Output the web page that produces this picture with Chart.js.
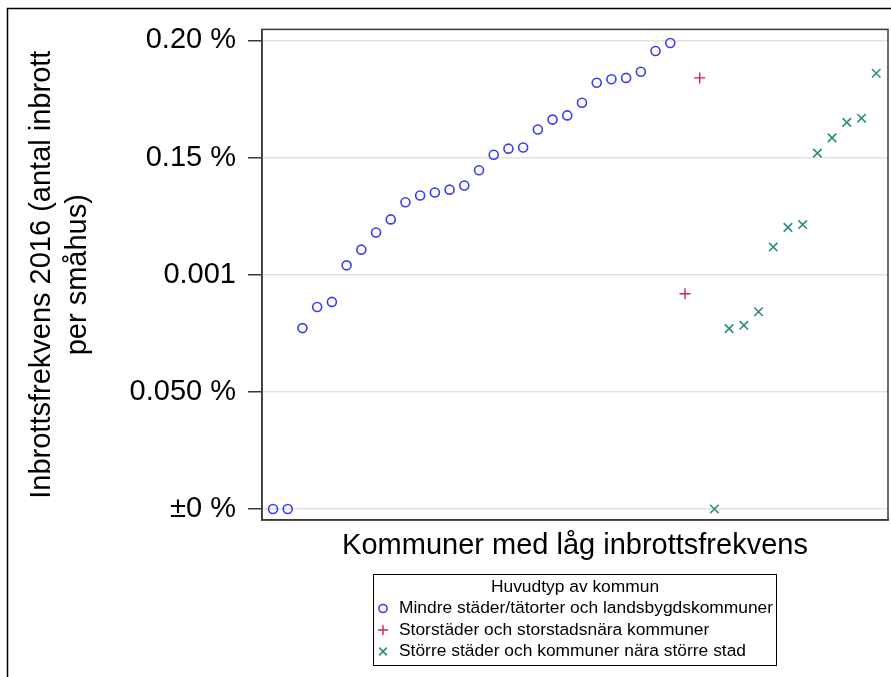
<!DOCTYPE html>
<html>
<head>
<meta charset="utf-8">
<script src="https://cdn.jsdelivr.net/npm/chart.js@4/dist/chart.umd.min.js"></script>
<style>
  html, body { margin: 0; padding: 0; background: #fff; overflow: hidden; }
  #wrap { width: 891px; height: 677px; }
  canvas { display: block; }
</style>
</head>
<body>
<div id="wrap"><canvas id="c" width="891" height="677"></canvas></div>
<script>
// ---- Data ----
const seriesNames = [
  'Mindre städer/tätorter och landsbygdskommuner',
  'Storstäder och storstadsnära kommuner',
  'Större städer och kommuner nära större stad'
];
const legendTitle = 'Huvudtyp av kommun';
const xTitle = 'Kommuner med låg inbrottsfrekvens';
const yTitle = ['Inbrottsfrekvens 2016 (antal inbrott', 'per småhus)'];

// rank of kommun (x position) and inbrottsfrekvens in percent (y)
const ranksMindre = [0, 1, 2, 3, 4, 5, 6, 7, 8, 9, 10, 11, 12, 13, 14, 15, 16, 17, 18, 19, 20, 21, 22, 23, 24, 25, 26, 27];
const valuesMindre = [0, 0, 0.0772, 0.0862, 0.0884, 0.1040, 0.1107, 0.1180, 0.1236, 0.1309, 0.1338, 0.1351, 0.1363, 0.1381,
                      0.1446, 0.1512, 0.1538, 0.1543, 0.1620, 0.1662, 0.1680, 0.1734, 0.1819, 0.1834, 0.1840, 0.1866, 0.1955, 0.1989];
const ranksStor = [28, 29];
const valuesStor = [0.0919, 0.1840];
const ranksStorre = [30, 31, 32, 33, 34, 35, 36, 37, 38, 39, 40, 41];
const valuesStorre = [0, 0.0770, 0.0784, 0.0842, 0.1118, 0.1202, 0.1214, 0.1519, 0.1584, 0.1650, 0.1668, 0.1860];

const yTickValues = [0, 0.05, 0.10, 0.15, 0.20];
const yTickLabels = ['±0 %', '0.050 %', '0.001', '0.15 %', '0.20 %'];

// ---- Build ----
function pts(xs, ys) { return xs.map((x, i) => ({ x: x, y: ys[i] })); }

const FONT = '"Liberation Sans", Arial, sans-serif';
const colors = ['#3b3bf0', '#c8284a', '#2f8a80'];

const datasets = [
  { label: seriesNames[0], data: pts(ranksMindre, valuesMindre), pointStyle: 'circle', radius: 4.5, borderWidth: 1.6,
    borderColor: colors[0], backgroundColor: 'rgba(0,0,0,0)' },
  { label: seriesNames[1], data: pts(ranksStor, valuesStor), pointStyle: 'cross', radius: 5.5, borderWidth: 1.4,
    borderColor: colors[1], backgroundColor: colors[1] },
  { label: seriesNames[2], data: pts(ranksStorre, valuesStorre), pointStyle: 'crossRot', radius: 6, borderWidth: 1.6,
    borderColor: colors[2], backgroundColor: colors[2] }
];
datasets.forEach(d => { d.pointRadius = d.radius; d.pointHoverRadius = d.radius; });

const framePlugin = {
  id: 'frame',
  beforeDraw(chart) {
    const ctx = chart.ctx;
    ctx.save();
    ctx.fillStyle = '#fff';
    ctx.fillRect(0, 0, chart.width, chart.height);
    ctx.strokeStyle = '#000';
    ctx.lineWidth = 1.5;
    ctx.beginPath();
    ctx.moveTo(7.5, chart.height + 2);
    ctx.lineTo(7.5, 8.5);
    ctx.lineTo(chart.width + 2, 8.5);
    ctx.stroke();
    ctx.restore();
  },
  afterDatasetsDraw(chart) {
    const a = chart.chartArea;
    const ctx = chart.ctx;
    ctx.save();
    ctx.strokeStyle = '#3a3a3a';
    ctx.lineWidth = 1.5;
    ctx.strokeRect(a.left, a.top, a.right - a.left, a.bottom - a.top);
    ctx.restore();
  },
  afterDraw(chart) {
    const ctx = chart.ctx;
    ctx.save();
    ctx.strokeStyle = '#000';
    ctx.lineWidth = 1;
    ctx.strokeRect(373.5, 574.5, 403, 91);
    ctx.fillStyle = '#000';
    ctx.font = '17.4px ' + FONT;
    ctx.textAlign = 'center';
    ctx.textBaseline = 'middle';
    ctx.fillText(legendTitle, 575, 587);
    ctx.textAlign = 'left';
    chart.data.datasets.forEach((ds, i) => {
      const y = 608.5 + i * 21.5;
      ctx.strokeStyle = ds.borderColor;
      ctx.fillStyle = ds.backgroundColor;
      ctx.lineWidth = ds.borderWidth;
      Chart.helpers.drawPoint(ctx, { pointStyle: ds.pointStyle, radius: ds.radius * 0.9, borderWidth: ds.borderWidth, rotation: 0 }, 383, y);
      ctx.fillStyle = '#000';
      ctx.fillText(ds.label, 399, y);
    });
    ctx.restore();
  }
};

new Chart(document.getElementById('c'), {
  type: 'scatter',
  data: { datasets: datasets },
  options: {
    responsive: false,
    animation: false,
    events: [],
    layout: { autoPadding: false, padding: { left: 0, top: 29, right: 3, bottom: 0 } },
    plugins: { legend: { display: false }, tooltip: { enabled: false } },
    scales: {
      x: {
        type: 'linear',
        min: -0.75,
        max: 41.8,
        grid: { display: false },
        border: { display: true, color: '#3a3a3a', width: 1.5 },
        ticks: { display: false },
        title: { display: true, text: xTitle, color: '#000', font: { family: FONT, size: 29 },
                 padding: { top: 0, bottom: 114 } },
        afterFit(scale) { scale.height = 157; }
      },
      y: {
        type: 'linear',
        min: -0.0047,
        max: 0.2047,
        afterBuildTicks(scale) { scale.ticks = yTickValues.map(v => ({ value: v })); },
        ticks: {
          color: '#000',
          font: { family: FONT, size: 29 },
          padding: 12,
          callback: (v) => { const i = yTickValues.findIndex(t => Math.abs(t - v) < 1e-9); return i >= 0 ? yTickLabels[i] : ''; }
        },
        grid: { color: '#e2e2e2', lineWidth: 1.5, tickColor: '#3a3a3a', tickLength: 14, tickWidth: 1.5 },
        border: { display: true, color: '#3a3a3a', width: 1.5 },
        title: { display: true, text: yTitle, color: '#000', font: { family: FONT, size: 29, lineHeight: 1.25 },
                 padding: { top: 24, bottom: 0 } },
        afterFit(scale) { scale.width = 262; }
      }
    }
  },
  plugins: [framePlugin]
});
</script>
</body>
</html>
